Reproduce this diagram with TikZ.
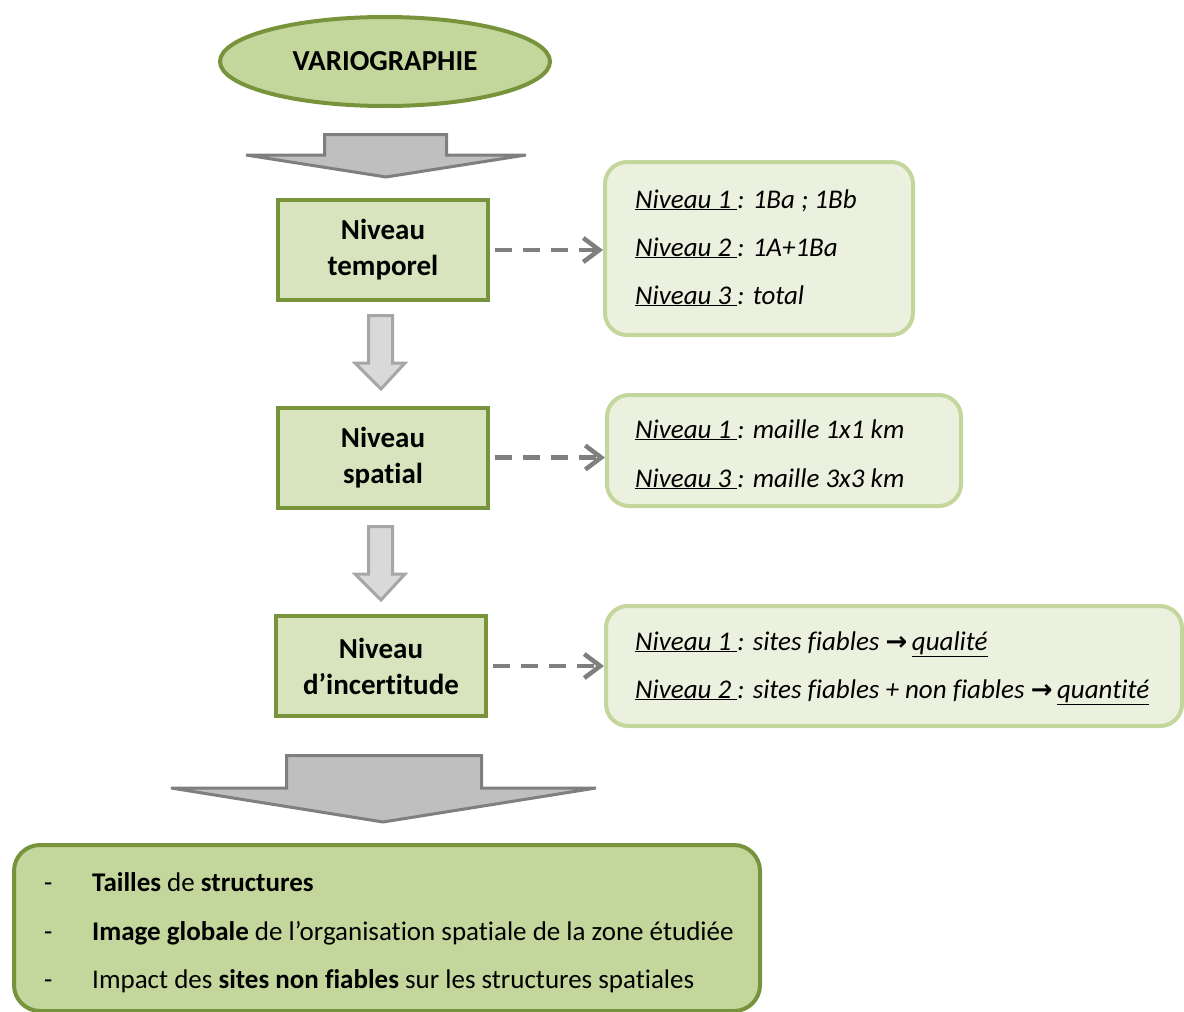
\documentclass[tikz,border=0pt]{standalone}
\usepackage{fontspec}
\setmainfont{Carlito}[Ligatures=NoCommon]
\newfontfamily\symf{DejaVu Sans}
\usetikzlibrary{arrows.meta,shapes.geometric}
\definecolor{dkgreen}{HTML}{77933C}
\definecolor{midgreen}{HTML}{C3D69B}
\definecolor{lvlfill}{HTML}{D7E4BD}
\definecolor{palefill}{HTML}{EBF1DE}
\definecolor{arrgray}{HTML}{7F7F7F}
\definecolor{arrfill}{HTML}{BFBFBF}
\definecolor{smborder}{HTML}{A6A6A6}
\definecolor{smfill}{HTML}{D9D9D9}
\newcommand{\rarr}{{\upshape\symf\bfseries\fontsize{26}{36}\selectfont →}}
\begin{document}
\begin{tikzpicture}[x=1pt,y=-1pt,
 levelbox/.style={draw=dkgreen, fill=lvlfill, line width=4pt, minimum width=210pt, minimum height=100pt, inner sep=0pt, align=center, font=\fontsize{29}{36}\selectfont\bfseries},
 notebox/.style={draw=midgreen, fill=palefill, line width=4pt, rounded corners=22pt, inner sep=0pt},
 notetext/.style={anchor=base west, inner sep=0pt, font=\fontsize{27}{36}\selectfont\itshape},
 restext/.style={anchor=base west, inner sep=0pt, font=\fontsize{27}{36}\selectfont},
 dasharrow/.style={draw=arrgray, line width=4.5pt, dash pattern=on 17pt off 11pt, -{Straight Barb[length=16pt,width=24pt,line width=4.5pt]}},
 bigarrow/.style={draw=arrgray, fill=arrfill, line width=3pt, line join=miter},
 smallarrow/.style={draw=smborder, fill=smfill, line width=3pt, line join=miter},
]
\useasboundingbox (0,0) rectangle (1184,1012);

% title ellipse
\node[ellipse, draw=dkgreen, fill=midgreen, line width=4pt, minimum width=330pt, minimum height=89pt, inner sep=0pt, font=\fontsize{29}{36}\selectfont\bfseries] (vario) at (385,61.5) {VARIOGRAPHIE};

% big arrow under title
\draw[bigarrow] (324.5,134.5) -- (446.5,134.5) -- (446.5,155) -- (526,155) -- (386,177) -- (246,155) -- (324.5,155) -- cycle;

% level boxes
\node[levelbox] (temp) at (383,250) {Niveau\\temporel};
\node[levelbox] (spat) at (383,457.5) {Niveau\\spatial};
\node[levelbox] (incert) at (381,666) {Niveau\\d’incertitude};

% small arrows between level boxes
\draw[smallarrow] (368.5,315.5) -- (392.5,315.5) -- (392.5,363) -- (405,363) -- (381,389) -- (355,363) -- (368.5,363) -- cycle;
\draw[smallarrow] (368.5,526.5) -- (392.5,526.5) -- (392.5,574) -- (405,574) -- (381,600) -- (355,574) -- (368.5,574) -- cycle;

% note boxes
\node[notebox, minimum width=308pt, minimum height=173pt] (n1) at (759,248.5) {};
\node[notebox, minimum width=354pt, minimum height=111pt] (n2) at (784,450.5) {};
\node[notebox, minimum width=576pt, minimum height=120pt] (n3) at (894,666) {};

\node[notetext] (n1a) at (635,208) {\underline{Niveau 1 }: 1Ba ; 1Bb};
\node[notetext] (n1b) at (635,256) {\underline{Niveau 2 }: 1A+1Ba};
\node[notetext] (n1c) at (635,304) {\underline{Niveau 3 }: total};

\node[notetext] (n2a) at (635,438) {\underline{Niveau 1 }: maille 1x1 km};
\node[notetext] (n2b) at (635,487) {\underline{Niveau 3 }: maille 3x3 km};

\node[notetext] (n3a) at (635,650) {\underline{Niveau 1 }: sites fiables \rarr\,\underline{qualité}};
\node[notetext] (n3b) at (635,698) {\underline{Niveau 2 }: sites fiables + non fiables \rarr\,\underline{quantité}};

% dashed connectors
\draw[dasharrow] ([xshift=5pt]temp.east) -- (n1.west |- temp.east);
\draw[dasharrow] ([xshift=5pt]spat.east) -- (n2.west |- spat.east);
\draw[dasharrow] ([xshift=5pt]incert.east) -- (n3.west |- incert.east);

% big arrow to results
\draw[bigarrow] (286.5,755.5) -- (481.5,755.5) -- (481.5,788) -- (596,788) -- (383,822) -- (171,788) -- (286.5,788) -- cycle;

% results box
\node[draw=dkgreen, fill=midgreen, line width=4pt, rounded corners=26pt, minimum width=746pt, minimum height=166pt, inner sep=0pt] (res) at (387,928) {};

\node[restext] (d1) at (44,891) {-};
\node[restext] (d2) at (44,940) {-};
\node[restext] (d3) at (44,988) {-};
\node[restext] (r1) at (92,891) {\textbf{Tailles} de \textbf{structures}};
\node[restext] (r2) at (92,940) {\textbf{Image globale} de l’organisation spatiale de la zone étudiée};
\node[restext] (r3) at (92,988) {Impact des \textbf{sites non fiables} sur les structures spatiales};
\end{tikzpicture}
\end{document}
